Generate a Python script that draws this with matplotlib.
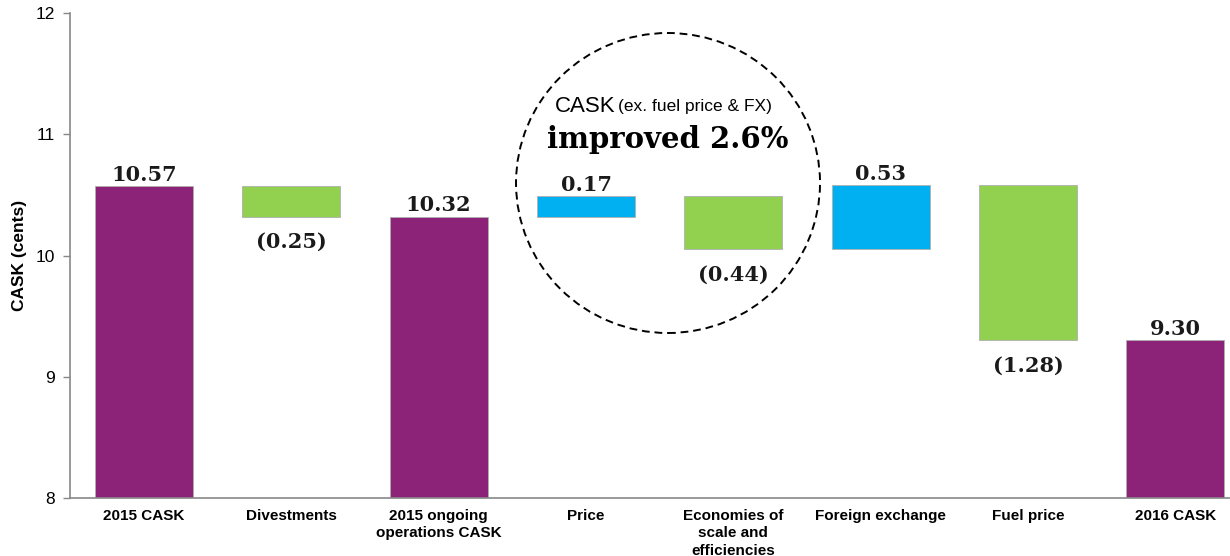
import matplotlib.pyplot as plt
from matplotlib.patches import Ellipse

# CASK bridge, 2015 -> 2016 (cents)
categories = ["2015 CASK", "Divestments", "2015 ongoing\noperations CASK", "Price",
              "Economies of\nscale and\nefficiencies", "Foreign exchange", "Fuel price", "2016 CASK"]
values = [10.57, -0.25, 10.32, 0.17, -0.44, 0.53, -1.28, 9.30]
is_total = [True, False, True, False, False, False, False, True]
labels = ["10.57", "(0.25)", "10.32", "0.17", "(0.44)", "0.53", "(1.28)", "9.30"]

PURPLE = "#8D2378"
GREEN = "#92D050"
BLUE = "#00B0F0"

plt.rcParams['font.family'] = ['Liberation Sans', 'DejaVu Sans']

fig = plt.figure(figsize=(12.3, 5.56), dpi=100)
ax = fig.add_axes([70 / 1230, 1 - 498 / 556, 1 - 70 / 1230, (498 - 13) / 556])

# running total to place the floating bars
bottoms, heights, colors = [], [], []
running = 0.0
for v, tot in zip(values, is_total):
    if tot:
        bottoms.append(8)
        heights.append(v - 8)
        colors.append(PURPLE)
        running = v
    else:
        if v < 0:
            bottoms.append(running + v)
            colors.append(GREEN)
        else:
            bottoms.append(running)
            colors.append(BLUE)
        heights.append(abs(v))
        running += v

x = range(len(categories))
ax.bar(x, heights, bottom=bottoms, width=0.665, color=colors,
       edgecolor="#b0b0b0", linewidth=0.6, zorder=2)

for i, (b, h, v, tot, lab) in enumerate(zip(bottoms, heights, values, is_total, labels)):
    if tot or v > 0:
        ax.annotate(lab, (i, b + h), xytext=(0, 1), textcoords="offset points",
                    ha="center", va="bottom", fontsize=15, fontweight="bold",
                    family="DejaVu Serif", color="#1a1a1a")
    else:
        ax.annotate(lab, (i, b), xytext=(0, -11), textcoords="offset points",
                    ha="center", va="top", fontsize=15, fontweight="bold",
                    family="DejaVu Serif", color="#1a1a1a")

ax.set_ylim(8, 12)
ax.set_xlim(-0.502, 7.37)
ax.set_yticks([8, 9, 10, 11, 12])
ax.tick_params(axis="y", labelsize=12.5, length=5, color="#888888", width=1, pad=6)
ax.set_xticks(list(x))
ax.set_xticklabels(categories, fontsize=11, fontweight="bold", linespacing=1.3)
ax.tick_params(axis="x", length=0, pad=8)
ax.set_ylabel("CASK (cents)", fontsize=12.5, fontweight="bold", labelpad=6)

for side in ("top", "right"):
    ax.spines[side].set_visible(False)
for side in ("left", "bottom"):
    ax.spines[side].set_color("#888888")
    ax.spines[side].set_linewidth(1.2)

# dashed callout circle around price / efficiency bars
circle = Ellipse((668 / 1230, 1 - 183 / 556), 304 / 1230, 300 / 556,
                 transform=fig.transFigure, fill=False, edgecolor="black",
                 linestyle=(0, (4, 2.5)), linewidth=1.4, clip_on=False, zorder=5)
fig.add_artist(circle)

fig.text(615 / 1230, 1 - 106 / 556, "CASK", ha="right", va="center", fontsize=16)
fig.text(618 / 1230, 1 - 106 / 556, "(ex. fuel price & FX)", ha="left", va="center", fontsize=12.5)
fig.text(668 / 1230, 1 - 139 / 556, "improved 2.6%", ha="center", va="center",
         fontsize=21, fontweight="bold", family="DejaVu Serif")

fig.savefig("out.png", dpi=100)
